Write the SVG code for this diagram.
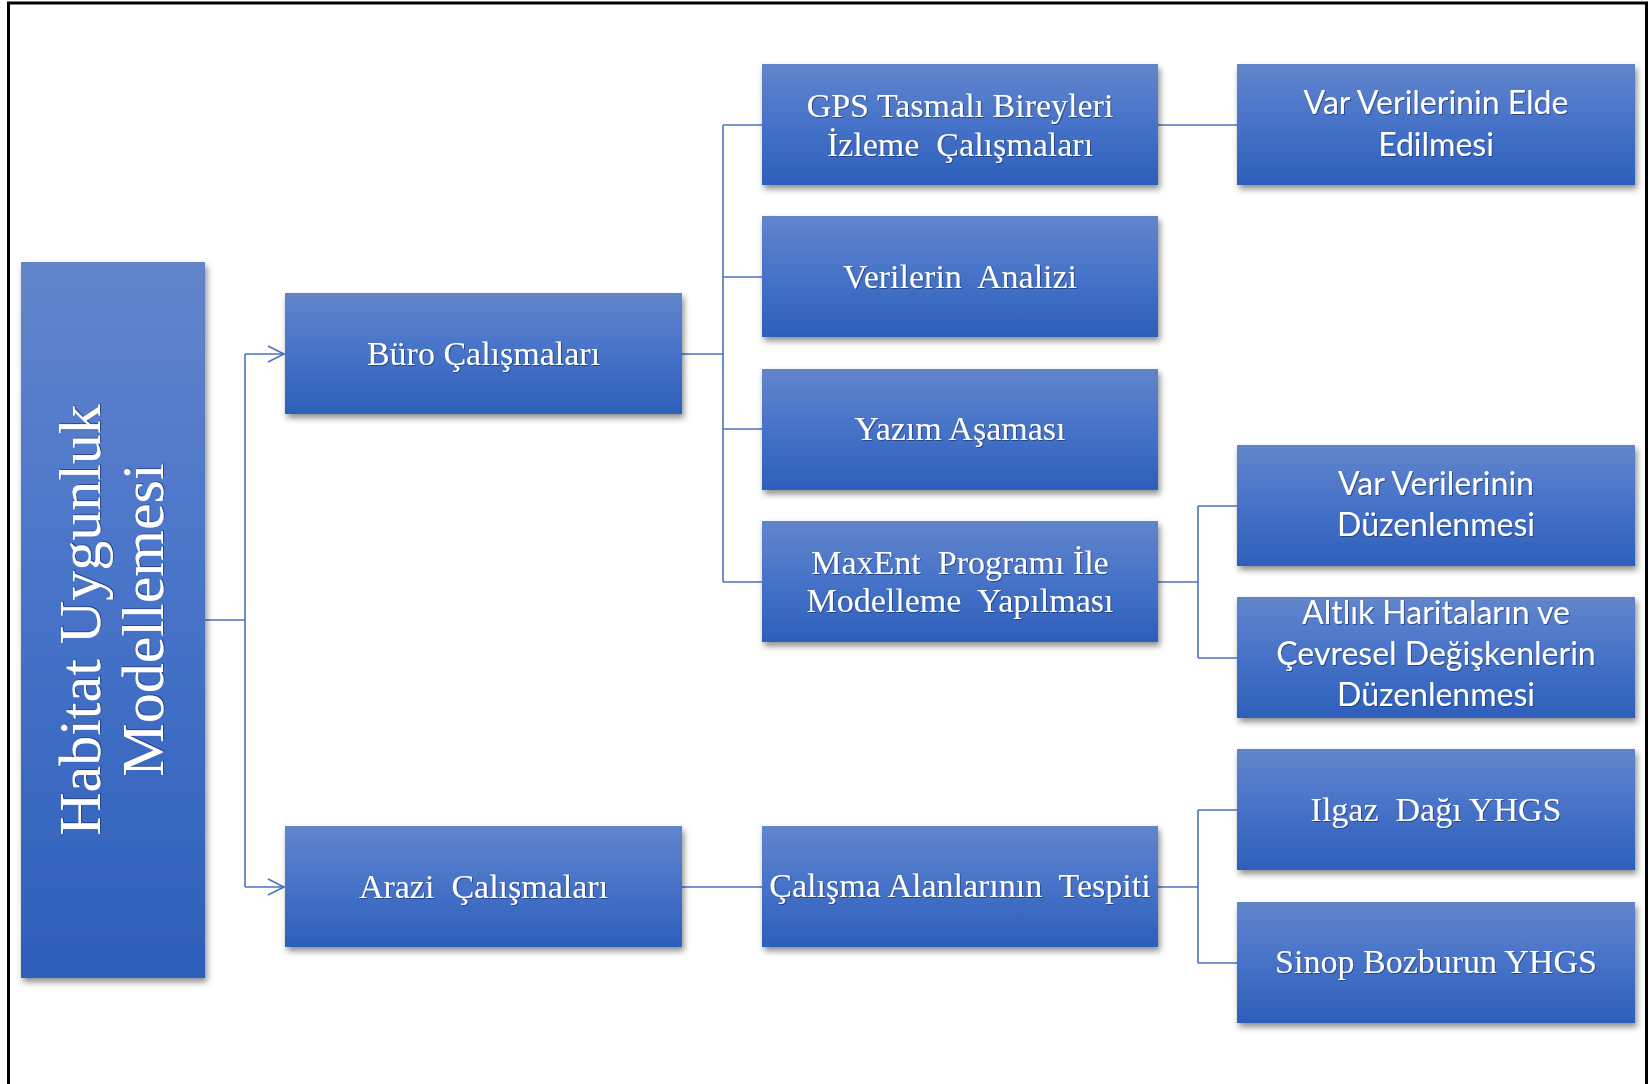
<svg xmlns="http://www.w3.org/2000/svg" width="1648" height="1084" viewBox="0 0 1648 1084">
  <defs>
    <linearGradient id="boxGrad" x1="0" y1="0" x2="0" y2="1">
      <stop offset="0" stop-color="#6285cc"/>
      <stop offset="0.5" stop-color="#4672c8"/>
      <stop offset="1" stop-color="#2d5fba"/>
    </linearGradient>
    <filter id="shadow" x="-10%" y="-10%" width="125%" height="130%">
      <feDropShadow dx="2" dy="4" stdDeviation="3" flood-color="#000" flood-opacity="0.45"/>
    </filter>
    <filter id="tshadow" x="-5%" y="-20%" width="110%" height="140%">
      <feDropShadow dx="1" dy="1" stdDeviation="0.6" flood-color="#1b3570" flood-opacity="0.7"/>
    </filter>
    <marker id="arrow" viewBox="0 0 20 20" refX="17" refY="10" markerWidth="20" markerHeight="20" markerUnits="userSpaceOnUse" orient="auto">
      <path d="M1,2 L17,10 L1,18" fill="none" stroke="#4a72c0" stroke-width="1.6"/>
    </marker>
  </defs>
  <style>
    .box { fill: url(#boxGrad); filter: url(#shadow); }
    .conn { fill: none; stroke: #4a72c0; stroke-width: 1.6; }
    .serif { font-family: "Liberation Serif", "Times New Roman", serif; font-size: 34px; fill: #ffffff; text-anchor: middle; white-space: pre; filter: url(#tshadow); }
    .sans { font-family: Lato, "Liberation Sans", sans-serif; font-size: 32px; fill: #ffffff; text-anchor: middle; white-space: pre; filter: url(#tshadow); }
    .root { font-family: "Liberation Serif", "Times New Roman", serif; font-size: 60px; fill: #ffffff; text-anchor: middle; white-space: pre; filter: url(#tshadow); }
  </style>

  <rect x="0" y="0" width="1648" height="1084" fill="#ffffff"/>
  <rect x="8.5" y="3" width="1638" height="1100" fill="none" stroke="#000" stroke-width="3"/>

  <g id="connectors">
    <path class="conn" d="M205,620 H245"/>
    <path class="conn" d="M245,354 V887"/>
    <path class="conn" d="M245,354 H284" marker-end="url(#arrow)"/>
    <path class="conn" d="M245,887 H284" marker-end="url(#arrow)"/>
    <path class="conn" d="M682,354 H723"/>
    <path class="conn" d="M723,125 V582"/>
    <path class="conn" d="M723,125 H762"/>
    <path class="conn" d="M723,277 H762"/>
    <path class="conn" d="M723,429 H762"/>
    <path class="conn" d="M723,582 H762"/>
    <path class="conn" d="M1158,125 H1237"/>
    <path class="conn" d="M1158,582 H1198"/>
    <path class="conn" d="M1198,506 V658"/>
    <path class="conn" d="M1198,506 H1237"/>
    <path class="conn" d="M1198,658 H1237"/>
    <path class="conn" d="M682,887 H762"/>
    <path class="conn" d="M1158,887 H1198"/>
    <path class="conn" d="M1198,810 V963"/>
    <path class="conn" d="M1198,810 H1237"/>
    <path class="conn" d="M1198,963 H1237"/>
  </g>

  <g id="node-root">
    <rect class="box" x="21" y="262" width="184" height="716"/>
    <text class="root" transform="translate(100,620) rotate(-90)">Habitat Uygunluk</text>
    <text class="root" transform="translate(163,620) rotate(-90)">Modellemesi</text>
  </g>

  <g id="node-buro">
    <rect class="box" x="285" y="293" width="397" height="121"/>
    <text class="serif" x="483.5" y="365">Büro Çalışmaları</text>
  </g>

  <g id="node-arazi">
    <rect class="box" x="285" y="826" width="397" height="121"/>
    <text class="serif" x="483.5" y="898">Arazi  Çalışmaları</text>
  </g>

  <g id="node-gps">
    <rect class="box" x="762" y="64" width="396" height="121"/>
    <text class="serif" x="960" y="117">GPS Tasmalı Bireyleri</text>
    <text class="serif" x="960" y="156">İzleme  Çalışmaları</text>
  </g>

  <g id="node-analiz">
    <rect class="box" x="762" y="216" width="396" height="121"/>
    <text class="serif" x="960" y="288">Verilerin  Analizi</text>
  </g>

  <g id="node-yazim">
    <rect class="box" x="762" y="369" width="396" height="121"/>
    <text class="serif" x="960" y="440">Yazım Aşaması</text>
  </g>

  <g id="node-maxent">
    <rect class="box" x="762" y="521" width="396" height="121"/>
    <text class="serif" x="960" y="574">MaxEnt  Programı İle</text>
    <text class="serif" x="960" y="612">Modelleme  Yapılması</text>
  </g>

  <g id="node-calisma">
    <rect class="box" x="762" y="826" width="396" height="121"/>
    <text class="serif" x="960" y="897">Çalışma Alanlarının  Tespiti</text>
  </g>

  <g id="node-varelde">
    <rect class="box" x="1237" y="64" width="398" height="121"/>
    <text class="sans" x="1436" y="114">Var Verilerinin Elde</text>
    <text class="sans" x="1436" y="156">Edilmesi</text>
  </g>

  <g id="node-varduzen">
    <rect class="box" x="1237" y="445" width="398" height="121"/>
    <text class="sans" x="1436" y="495">Var Verilerinin</text>
    <text class="sans" x="1436" y="536">Düzenlenmesi</text>
  </g>

  <g id="node-altlik">
    <rect class="box" x="1237" y="597" width="398" height="121"/>
    <text class="sans" x="1436" y="624">Altlık Haritaların ve</text>
    <text class="sans" x="1436" y="665">Çevresel Değişkenlerin</text>
    <text class="sans" x="1436" y="706">Düzenlenmesi</text>
  </g>

  <g id="node-ilgaz">
    <rect class="box" x="1237" y="749" width="398" height="121"/>
    <text class="serif" x="1436" y="821">Ilgaz  Dağı YHGS</text>
  </g>

  <g id="node-sinop">
    <rect class="box" x="1237" y="902" width="398" height="121"/>
    <text class="serif" x="1436" y="973">Sinop Bozburun YHGS</text>
  </g>
</svg>
